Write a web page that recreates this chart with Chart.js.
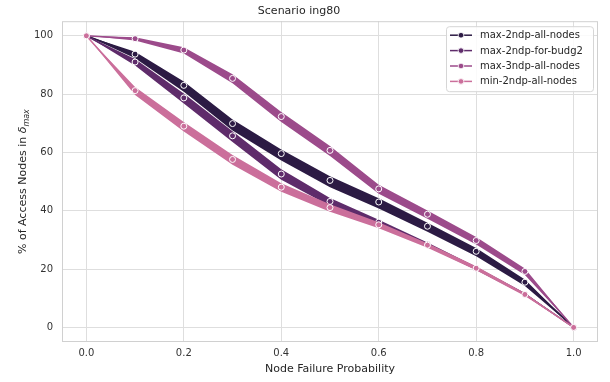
<!DOCTYPE html>
<html>
<head>
<meta charset="utf-8">
<script src="https://cdn.jsdelivr.net/npm/chart.js@4.4.1/dist/chart.umd.min.js"></script>
<style>
  html, body { margin: 0; background: #fff; }
  #wrap { width: 610px; height: 382px; }
</style>
</head>
<body>
<div id="wrap"><canvas id="chart"></canvas></div>
<script>
const probs = [0.0, 0.1, 0.2, 0.3, 0.4, 0.5, 0.6, 0.7, 0.8, 0.9, 1.0];
const xTicks = [0.0, 0.2, 0.4, 0.6, 0.8, 1.0];
const yTicks = [0, 20, 40, 60, 80, 100];

const seriesNames = ['max-2ndp-all-nodes', 'max-2ndp-for-budg2', 'max-3ndp-all-nodes', 'min-2ndp-all-nodes'];
const seriesColors = ['#2c1b44', '#5f2c6b', '#9c4b8b', '#cb6f9b'];

// mean values
const max2ndpAll   = [100, 93.7, 83.0, 69.9, 59.6, 50.4, 43.0, 34.7, 26.1, 15.5, 0];
const max2ndpBudg2 = [100, 91.0, 78.7, 65.7, 52.6, 43.2, 36.1, 28.5, 20.3, 11.4, 0];
const max3ndpAll   = [100, 99.0, 95.1, 85.4, 72.3, 60.7, 47.5, 38.8, 29.8, 19.2, 0];
const min2ndpAll   = [100, 81.2, 69.0, 57.6, 48.1, 41.1, 35.2, 28.2, 20.3, 11.3, 0];

// error band bounds
const max2ndpAllLo   = [100, 92.3, 80.8, 67.5, 57.2, 48.1, 40.8, 32.8, 24.4, 14.2, 0];
const max2ndpAllHi   = [100, 94.5, 84.3, 71.3, 61.0, 51.8, 44.3, 35.9, 27.2, 16.4, 0];
const max2ndpBudg2Lo = [100, 89.8, 76.8, 63.6, 50.6, 41.6, 35.0, 27.7, 19.7, 11.0, 0];
const max2ndpBudg2Hi = [100, 92.0, 80.2, 67.3, 54.2, 44.4, 36.9, 29.1, 20.8, 11.8, 0];
const max3ndpAllLo   = [100, 98.4, 93.9, 83.7, 70.4, 58.8, 45.8, 37.3, 28.4, 18.0, 0];
const max3ndpAllHi   = [100, 99.5, 96.1, 86.8, 73.9, 62.2, 48.9, 40.1, 31.0, 20.2, 0];
const min2ndpAllLo   = [100, 79.7, 67.2, 55.8, 46.5, 39.7, 34.0, 27.3, 19.6, 10.8, 0];
const min2ndpAllHi   = [100, 82.4, 70.4, 59.1, 49.4, 42.2, 36.1, 28.9, 21.0, 11.8, 0];

const means = [max2ndpAll, max2ndpBudg2, max3ndpAll, min2ndpAll];
const lows  = [max2ndpAllLo, max2ndpBudg2Lo, max3ndpAllLo, min2ndpAllLo];
const highs = [max2ndpAllHi, max2ndpBudg2Hi, max3ndpAllHi, min2ndpAllHi];

const pts = arr => arr.map((v, i) => ({ x: probs[i], y: v }));

const datasets = [];
seriesNames.forEach((name, s) => {
  const drawOrder = 10 + (seriesNames.length - s) * 2;
  datasets.push({
    label: name + ' hi', band: true,
    data: pts(highs[s]),
    borderWidth: 0, pointRadius: 0, fill: false,
    borderColor: seriesColors[s], order: drawOrder
  });
  datasets.push({
    label: name + ' lo', band: true,
    data: pts(lows[s]),
    borderWidth: 0, pointRadius: 0,
    fill: '-1', backgroundColor: seriesColors[s],
    borderColor: seriesColors[s], order: drawOrder
  });
  datasets.push({
    label: name,
    data: pts(means[s]),
    borderColor: seriesColors[s],
    backgroundColor: seriesColors[s],
    borderWidth: 1.5,
    pointRadius: 3,
    pointBorderColor: '#ffffff',
    pointBorderWidth: 1,
    fill: false,
    order: drawOrder - 1
  });
});

// frame around the plot, y label with subscript, legend box
const framePlugin = {
  id: 'frame',
  beforeDatasetsDraw(chart) {
    const { ctx, chartArea: a } = chart;
    ctx.save();
    ctx.strokeStyle = '#d0d0d0';
    ctx.lineWidth = 1;
    ctx.strokeRect(a.left + 0.5, a.top + 0.5, a.width - 1, a.height - 1);

    // y axis label: "% of Access Nodes in δ_max"
    const main = '% of Access Nodes in ';
    ctx.translate(22, (a.top + a.bottom) / 2);
    ctx.rotate(-Math.PI / 2);
    ctx.fillStyle = '#262626';
    ctx.textBaseline = 'alphabetic';
    ctx.font = '11px "DejaVu Sans"';
    const w1 = ctx.measureText(main).width;
    ctx.font = 'italic 11px "DejaVu Sans"';
    const w2 = ctx.measureText('δ').width;
    ctx.font = 'italic 8px "DejaVu Sans"';
    const w3 = ctx.measureText('max').width;
    let x = -(w1 + w2 + w3) / 2;
    ctx.font = '11px "DejaVu Sans"';
    ctx.fillText(main, x, 4);
    x += w1;
    ctx.font = 'italic 11px "DejaVu Sans"';
    ctx.fillText('δ', x, 4);
    x += w2;
    ctx.font = 'italic 8px "DejaVu Sans"';
    ctx.fillText('max', x, 6.5);
    ctx.restore();
  },
  afterDatasetsDraw(chart) {
    const { ctx, chartArea: a } = chart;
    const items = chart.data.datasets.filter(d => !d.band);
    const boxW = 147, boxH = 65;
    const bx = a.right - 5 - boxW, by = a.top + 5;
    ctx.save();
    ctx.fillStyle = 'rgba(255,255,255,0.85)';
    ctx.strokeStyle = '#d6d6d6';
    ctx.lineWidth = 1;
    ctx.beginPath();
    ctx.roundRect(bx + 0.5, by + 0.5, boxW, boxH, 3);
    ctx.fill();
    ctx.stroke();
    ctx.font = '10px "DejaVu Sans"';
    ctx.textBaseline = 'middle';
    items.forEach((d, i) => {
      const y = by + 9 + i * 15.4;
      ctx.strokeStyle = d.borderColor;
      ctx.lineWidth = 1.5;
      ctx.beginPath();
      ctx.moveTo(bx + 4, y);
      ctx.lineTo(bx + 26, y);
      ctx.stroke();
      ctx.fillStyle = d.borderColor;
      ctx.strokeStyle = '#fff';
      ctx.lineWidth = 0.8;
      ctx.beginPath();
      ctx.arc(bx + 15, y, 2.8, 0, Math.PI * 2);
      ctx.fill();
      ctx.stroke();
      ctx.fillStyle = '#262626';
      ctx.fillText(d.label, bx + 34, y + 0.5);
    });
    ctx.restore();
  }
};

new Chart(document.getElementById('chart'), {
  type: 'line',
  data: { datasets },
  plugins: [framePlugin],
  options: {
    responsive: true,
    maintainAspectRatio: false,
    animation: false,
    layout: { padding: { left: 0, right: 12, top: 0, bottom: 6 } },
    plugins: {
      legend: { display: false },
      tooltip: { enabled: false },
      title: {
        display: true,
        text: 'Scenario ing80',
        color: '#262626',
        font: { family: 'DejaVu Sans', size: 11, weight: 'normal' },
        padding: { top: 5, bottom: 3 }
      }
    },
    scales: {
      x: {
        type: 'linear',
        min: -0.05, max: 1.05,
        afterBuildTicks: scale => { scale.ticks = xTicks.map(v => ({ value: v })); },
        afterFit: scale => { scale.height = 34; },
        ticks: {
          callback: v => v.toFixed(1),
          color: '#333',
          font: { family: 'DejaVu Sans', size: 10 },
          padding: 5
        },
        grid: { color: '#dedede', drawTicks: false },
        border: { display: false },
        title: {
          display: true,
          text: 'Node Failure Probability',
          color: '#262626',
          font: { family: 'DejaVu Sans', size: 11 },
          padding: { top: 2, bottom: 0 }
        }
      },
      y: {
        type: 'linear',
        min: -5, max: 105,
        afterBuildTicks: scale => { scale.ticks = yTicks.map(v => ({ value: v })); },
        afterFit: scale => { scale.width = 62; },
        ticks: {
          color: '#333',
          font: { family: 'DejaVu Sans', size: 10 },
          padding: 9
        },
        grid: { color: '#dedede', drawTicks: false },
        border: { display: false },
        title: { display: false }
      }
    }
  }
});
</script>
</body>
</html>
